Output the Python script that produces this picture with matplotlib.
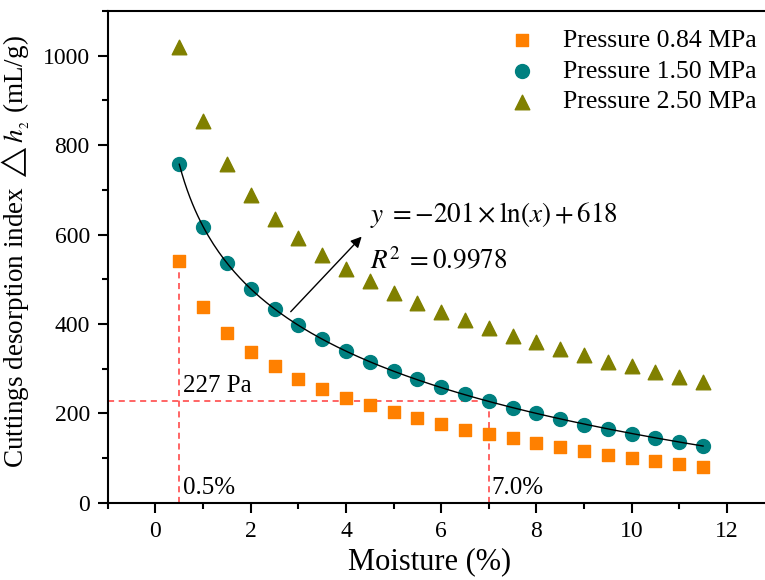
import numpy as np
import matplotlib
matplotlib.use("Agg")
import matplotlib.pyplot as plt
from matplotlib.ticker import MultipleLocator

plt.rcParams["font.family"] = ["Liberation Serif", "DejaVu Serif"]
plt.rcParams["mathtext.fontset"] = "stix"

# moisture (%)
moisture = [0.5, 1.0, 1.5, 2.0, 2.5, 3.0, 3.5, 4.0, 4.5, 5.0, 5.5, 6.0,
            6.5, 7.0, 7.5, 8.0, 8.5, 9.0, 9.5, 10.0, 10.5, 11.0, 11.5]

# cuttings desorption index (mL/g)
p084 = [541, 437, 380, 337, 305, 277, 254, 235, 218, 203, 189, 176,
        164, 154, 144, 134, 125, 117, 108, 101, 94, 87, 81]
p150 = [757, 618, 536, 478, 434, 397, 366, 339, 316, 295, 276, 259,
        243, 228, 213, 200, 187, 175, 165, 155, 145, 136, 127]
p250 = [1020, 855, 757, 688, 635, 592, 555, 523, 496, 470, 448, 426,
        408, 390, 374, 359, 344, 330, 316, 305, 293, 281, 271]

labels = ["Pressure 0.84 MPa", "Pressure 1.50 MPa", "Pressure 2.50 MPa"]

# fitted curve for 1.50 MPa
fit_a, fit_b = -201, 618
crit_y = 227
crit_x0, crit_x1 = 0.5, 7.0

fig = plt.figure(figsize=(7.65, 5.8), dpi=100)
ax = fig.add_axes([0.141, 0.133, 0.859, 0.848])

ax.scatter(moisture, p084, marker="s", s=80, color="#ff8000", label=labels[0], zorder=3)
ax.scatter(moisture, p150, marker="o", s=100, color="#008080", label=labels[1], zorder=3)
ax.scatter(moisture, p250, marker="^", s=110, color="#808000", label=labels[2], zorder=3)

xs = np.linspace(moisture[0], moisture[-1], 200)
ax.plot(xs, fit_a * np.log(xs) + fit_b, color="black", lw=1, zorder=4)

# red guide lines
red = "#ff3b3b"
ax.plot([crit_x0, crit_x0], [0, p084[0]], ls=(0, (4, 3)), color=red, lw=1.1, zorder=2)
ax.plot([-1, crit_x1], [crit_y, crit_y], ls=(0, (4, 3)), color=red, lw=1.1, zorder=2)
ax.plot([crit_x1, crit_x1], [0, crit_y], ls=(0, (4, 3)), color=red, lw=1.1, zorder=2)

ax.text(0.58, 262, "227 Pa", fontsize=18, va="center")
ax.text(0.58, 33, "0.5%", fontsize=18, va="center")
ax.text(7.06, 33, "7.0%", fontsize=18, va="center")

ax.annotate("", xy=(4.37, 600), xytext=(2.8, 423),
            arrowprops=dict(arrowstyle="-|>", color="black", lw=1, mutation_scale=16))
ax.text(4.5, 643, r"$y\;=-201\times\ln(x)+618$", fontsize=19.5, va="center")
ax.text(4.5, 539, r"$R^2\;=0.9978$", fontsize=19.5, va="center")

ax.set_xlim(-1, 12.8)
ax.set_ylim(0, 1100)
ax.xaxis.set_major_locator(MultipleLocator(2))
ax.xaxis.set_minor_locator(MultipleLocator(1))
ax.yaxis.set_major_locator(MultipleLocator(200))
ax.yaxis.set_minor_locator(MultipleLocator(100))
ax.tick_params(which="major", direction="out", length=7, width=1.5, labelsize=17, pad=6)
ax.tick_params(which="minor", direction="out", length=4, width=1.5)
ax.spines["right"].set_visible(False)
for s in ["left", "bottom", "top"]:
    ax.spines[s].set_linewidth(1.5)

ax.set_xlabel("Moisture (%)", fontsize=22)
ax.xaxis.set_label_coords(0.49, -0.09)
ax.set_ylabel(r"Cuttings desorption index $\triangle h_{_2}$ (mL/g)", fontsize=19.5, labelpad=9)
ax.yaxis.set_label_coords(-0.115, 0.51)

ax.legend(loc="upper right", bbox_to_anchor=(1.015, 1.0), frameon=False, fontsize=18.5,
          handletextpad=0.6, labelspacing=0.3, borderaxespad=0.3)

fig.savefig("out.png", dpi=100)
